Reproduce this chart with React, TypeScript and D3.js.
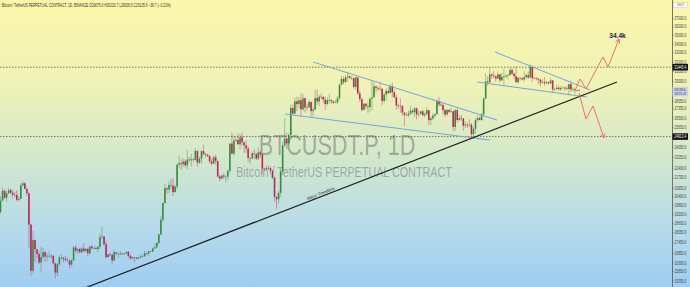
import React from 'react';
import * as d3 from 'd3';

const W = 690;
const H = 287;
const PLOT_R = 672;
const SX = 0.72;

// Daily candles, Binance BTCUSDT.P, from 2022-10-25 to 2023-08-06 (open = previous close)
const START_OPEN = 19330;
const closes = [
  // Oct 25-31
  20090, 20770, 20290, 20600, 20810, 20630, 20490,
  // Nov
  20480, 20150, 20210, 21150, 21300, 20900, 20590, 18540, 15880, 17600, 17070, 16800, 16330, 16620, 16900, 16660, 16690, 16700, 16690, 16280, 15780, 16230, 16600, 16600, 16520, 16460, 16430, 16210, 16440, 17170,
  // Dec
  16980, 17090, 16890, 17110, 16970, 17090, 16840, 17220, 17130, 17130, 17080, 17210, 17780, 17810, 17360, 16630, 16780, 16740, 16440, 16900, 16820, 16820, 16780, 16830, 16830, 16920, 16700, 16550, 16630, 16600, 16540,
  // Jan
  16620, 16670, 16670, 16850, 16830, 16950, 16940, 17120, 17180, 17440, 17940, 18850, 19930, 20950, 20870, 21170, 21130, 20680, 21070, 22670, 22780, 22710, 22920, 22630, 23060, 23010, 23080, 23030, 23740, 22830, 23130,
  // Feb
  23730, 23490, 23430, 23330, 22930, 22760, 23240, 22960, 21800, 21630, 21860, 21780, 21780, 22200, 24330, 23520, 24570, 24630, 24280, 24840, 24440, 24190, 23940, 23190, 23150, 23550, 23490, 23140,
  // Mar
  23630, 23470, 22360, 22350, 22430, 22410, 22200, 21700, 20360, 20190, 20630, 22160, 24200, 24740, 24360, 25050, 27420, 26920, 28040, 27780, 28150, 27300, 28330, 27460, 27480, 27990, 27130, 27270, 28350, 28030, 28480,
  // Apr
  28460, 28200, 27790, 28170, 28170, 28040, 27910, 27950, 28330, 29650, 30230, 29900, 30400, 30490, 30320, 30320, 29430, 30380, 28800, 28250, 27260, 27820, 27590, 27510, 28300, 28420, 29470, 29340, 29250, 29230,
  // May
  28070, 28670, 29030, 28850, 29530, 28900, 28430, 27660, 27630, 27620, 26990, 26800, 26780, 26920, 27170, 27030, 27400, 26830, 26890, 27110, 26750, 26850, 27220, 26330, 26480, 26720, 26870, 28080, 27740, 27700, 27220,
  // Jun
  26820, 27250, 27070, 27120, 25730, 27230, 26340, 26500, 26480, 25840, 25930, 25900, 25920, 25120, 25570, 26330, 26510, 26340, 26840, 28300, 29990, 29890, 30690, 30550, 30470, 30270, 30700, 30080, 30450, 30480,
  // Jul
  30590, 30620, 31160, 30770, 30510, 29900, 30350, 30290, 30170, 30410, 30620, 30380, 31450, 30310, 30290, 30230, 30140, 29860, 29910, 29800, 29900, 29790, 30080, 29180, 29230, 29350, 29210, 29320, 29360, 29280, 29230,
  // Aug 1-6
  29700, 29180, 29180, 29090, 29060, 29136,
];
const highs = [
  20400, 21020, 20870, 20750, 20990, 20930, 20830,
  20700, 20800, 20390, 21300, 21480, 21370, 20990, 20670, 18600, 18150, 17650, 17080, 16950, 17200, 17140, 16980, 16840, 17000, 16800, 16760, 16290, 16300, 16720, 16800, 16610, 16680, 16600, 16480, 16530, 17250,
  17320, 17100, 17150, 17200, 17430, 17110, 17140, 17290, 17360, 17230, 17270, 17240, 18000, 18390, 17850, 17530, 16800, 16860, 16820, 17060, 16900, 16870, 16950, 16870, 16870, 16940, 16970, 16780, 16660, 16640, 16630,
  16630, 16760, 16780, 16990, 16880, 16990, 16970, 17170, 17400, 17490, 17960, 19100, 19990, 21260, 21000, 21440, 21640, 21650, 21190, 22750, 23370, 23080, 23170, 23080, 23800, 23280, 23500, 23170, 23950, 23780, 23300,
  23810, 24250, 23580, 23540, 23430, 23160, 23360, 23450, 22990, 21930, 21900, 22060, 21890, 22330, 24360, 25250, 25020, 24880, 25200, 25130, 25250, 24480, 24600, 24130, 23220, 23690, 23880, 23600,
  24000, 23780, 23480, 22420, 22610, 22600, 22540, 22270, 21800, 20370, 20800, 22250, 24500, 26500, 25250, 25200, 27750, 27750, 28390, 28500, 28450, 28800, 28780, 28400, 27800, 28200, 28000, 27500, 29180, 29170, 28650,
  28800, 28540, 28500, 28450, 28760, 28200, 28100, 28170, 28530, 29770, 30550, 30490, 30620, 31000, 30600, 30550, 30330, 30480, 30410, 29080, 28370, 27880, 27820, 28000, 28390, 30030, 29880, 29600, 29450, 29960,
  29340, 28880, 29270, 29380, 29700, 29850, 29170, 28660, 27830, 28330, 27650, 27050, 27030, 27200, 27660, 27300, 27480, 27480, 27180, 27160, 27280, 27080, 27490, 27220, 26630, 26930, 26900, 28200, 28450, 28050, 27830,
  27350, 27300, 27330, 27450, 27130, 27350, 27380, 26800, 26780, 26520, 26200, 26090, 26400, 26080, 25750, 26480, 26770, 26680, 26980, 28390, 30800, 30500, 31430, 30820, 31050, 30650, 31000, 30720, 30840, 31280,
  30660, 30800, 31400, 31330, 30890, 31500, 30450, 30390, 30450, 31050, 30800, 30990, 31800, 31620, 30390, 30440, 30340, 30240, 30190, 30410, 30060, 29990, 30350, 30100, 29380, 29690, 29580, 29530, 29420, 29470, 29530,
  29740, 30050, 29410, 29320, 29110, 29221,
];
const lows = [
  19250, 20050, 20200, 20000, 20560, 20500, 20250,
  20330, 20050, 20030, 20180, 21080, 20880, 20390, 17160, 15590, 15750, 16360, 16580, 16230, 15820, 16530, 16360, 16400, 16580, 16550, 16200, 15480, 15610, 16170, 16460, 16330, 16400, 16400, 16000, 16100, 16440,
  16870, 16790, 16880, 16880, 16880, 16900, 16680, 16740, 17060, 17090, 17070, 16870, 17080, 17660, 17280, 16560, 16590, 16660, 16270, 16400, 16760, 16560, 16750, 16770, 16730, 16780, 16590, 16460, 16500, 16330, 16490,
  16500, 16550, 16600, 16650, 16750, 16680, 16910, 16910, 17100, 17140, 17320, 17900, 18720, 19890, 20550, 20600, 20840, 20400, 20660, 20880, 22420, 22300, 22500, 22480, 22320, 22850, 22530, 22880, 22980, 22550, 22720,
  22750, 23360, 23210, 23270, 22760, 22630, 22730, 22680, 21690, 21450, 21600, 21630, 21350, 21530, 22050, 23500, 23330, 24450, 24250, 23840, 24150, 23570, 23610, 22860, 22720, 23060, 23100, 23020,
  23020, 23200, 21970, 22180, 22210, 22270, 21930, 21580, 20050, 19550, 19900, 20360, 21900, 24040, 23900, 24150, 24890, 26820, 26900, 27130, 27360, 26600, 27150, 27000, 27150, 27420, 26630, 26650, 27250, 27710, 27560,
  28250, 27870, 27250, 27670, 27830, 27750, 27790, 27880, 27800, 28170, 29600, 29680, 29880, 29960, 30230, 30120, 29270, 29100, 28620, 28010, 27120, 27140, 27330, 26940, 27020, 27230, 28380, 28880, 29050, 29080,
  27660, 27870, 28120, 28690, 28800, 28410, 28370, 27280, 27350, 26990, 26700, 25810, 26700, 26600, 26760, 26860, 26580, 26400, 26630, 26860, 26700, 26580, 26820, 25870, 25880, 26330, 26560, 26820, 27540, 27560, 26840,
  26600, 26750, 26950, 26970, 25380, 25360, 26120, 26200, 26280, 25400, 25640, 25640, 25720, 24820, 24750, 25170, 26180, 26310, 26250, 26650, 28270, 29550, 29810, 30250, 30280, 29930, 30220, 29850, 30040, 29500,
  30320, 30170, 30570, 30640, 30200, 29850, 29710, 30050, 30080, 29950, 30250, 30200, 30250, 29950, 30250, 30070, 29660, 29500, 29760, 29560, 29730, 29640, 29730, 28860, 29050, 29100, 29080, 29000, 29260, 29040, 29100,
  28580, 28960, 28970, 28750, 28960, 29010,
];

const yTicks = [37000, 36000, 35000, 34000, 33000, 32000, 31000, 30000, 28050, 27350, 26500, 25650, 24050, 23250, 22400, 21700, 20950, 20400, 19800, 19200, 18600, 18050, 17450, 16850, 16300, 15850, 15350];

const rangeHigh = 31445.4;
const rangeLow = 24913.4;
const lastPrice = 29138.6;
const countdown = '18:25:22';

// Drawings: [candle index, price]
const trendline: [number, number][] = [[41.6, 14990], [303.7, 29920]];
const wedge1Upper: [number, number][] = [[154, 32000], [244.6, 26340]];
const wedge1Lower: [number, number][] = [[140.2, 26870], [241, 24630]];
const wedge2Upper: [number, number][] = [[243.6, 33090], [290.4, 29130]];
const wedge2Lower: [number, number][] = [[234.7, 29920], [288.9, 28450]];
const bullPath: [number, number][] = [[283.0, 29058], [285.5, 30224], [288.4, 29225], [296.8, 32539], [299.3, 31466], [304.7, 34564]];
const bearPath: [number, number][] = [[285, 28840], [288.4, 26430], [291.9, 27610], [297.3, 24800]];
const targetLabel = '34.4k';
const trendLabel = 'Major Trendline';
const trendLabelIndex = 158;

const titleText = 'Bitcoin / TetherUS PERPETUAL CONTRACT, 1D, BINANCE  O29075.9  H29220.7  L29009.5  C29135.6  −39.7 (−0.21%)';
const watermark1 = 'BTCUSDT.P, 1D';
const watermark2 = 'Bitcoin / TetherUS PERPETUAL CONTRACT';

const GREEN = '#368a3b';
const RED = '#c41f58';
const BLUE = '#6fa8dc';
const SALMON = '#f0706a';
const FONT = '"Liberation Sans", Arial, sans-serif';

export default function App() {
  const x = d3.scaleLinear().domain([-0.25, 330.8]).range([0, PLOT_R]);
  const y = d3.scaleLog().domain([15039, 39398]).range([H, 0]);
  const pt = (d: [number, number]) => [x(d[0]), y(d[1])];
  const line = d3.line<[number, number]>().x(d => x(d[0])).y(d => y(d[1]));

  const opens = closes.map((c, i) => (i === 0 ? START_OPEN : closes[i - 1]));
  const bw = 1.55;

  const head = (path: [number, number][], len = 4.5) => {
    const a = pt(path[path.length - 2]);
    const b = pt(path[path.length - 1]);
    const ang = Math.atan2(b[1] - a[1], b[0] - a[0]);
    const s = 0.5;
    return `M${b[0] - len * Math.cos(ang - s)},${b[1] - len * Math.sin(ang - s)}L${b[0]},${b[1]}L${b[0] - len * Math.cos(ang + s)},${b[1] - len * Math.sin(ang + s)}`;
  };

  const t0 = pt(trendline[0]);
  const t1 = pt(trendline[1]);
  const tAng = Math.atan2(t1[1] - t0[1], t1[0] - t0[0]);
  const lx = x(trendLabelIndex);
  const ly = t0[1] + (lx - t0[0]) * Math.tan(tAng);
  const tip = pt(bullPath[bullPath.length - 1]);

  const label = (txt: string, tx: number, ty: number, props: any = {}) => (
    <text transform={`translate(${tx},${ty}) scale(${SX},1)`} {...props}>{txt}</text>
  );

  return (
    <svg width={W} height={H} style={{ position: 'fixed', left: 0, top: 0 }} fontFamily={FONT}>
      <defs>
        <linearGradient id="bg" x1="0" y1="0" x2="0" y2="1">
          <stop offset="0" stopColor="#fbf6aa" />
          <stop offset="0.3" stopColor="#eff2b6" />
          <stop offset="0.55" stopColor="#d2e8cc" />
          <stop offset="0.8" stopColor="#b6daea" />
          <stop offset="1" stopColor="#9fcdf2" />
        </linearGradient>
      </defs>
      <rect x={0} y={0} width={W} height={H} fill="url(#bg)" />

      {/* watermark */}
      {label(watermark1, 337, 155, { fontSize: 30, textAnchor: 'middle', fill: 'rgba(80,80,80,0.42)' })}
      {label(watermark2, 344, 177, { fontSize: 15, textAnchor: 'middle', fill: 'rgba(80,80,80,0.42)' })}

      {/* range levels */}
      <line x1={0} x2={PLOT_R} y1={y(rangeHigh)} y2={y(rangeHigh)} stroke="#555" strokeWidth={0.8} strokeDasharray="1.5,1.5" />
      <line x1={0} x2={PLOT_R} y1={y(rangeLow)} y2={y(rangeLow)} stroke="#555" strokeWidth={0.8} strokeDasharray="1.5,1.5" />

      {/* candles */}
      <g>
        {closes.map((c, i) => {
          const o = opens[i];
          const up = c >= o;
          const col = up ? GREEN : RED;
          const cx = x(i);
          const top = y(Math.max(o, c));
          const bot = y(Math.min(o, c));
          return (
            <g key={i}>
              <line x1={cx} x2={cx} y1={y(highs[i])} y2={y(lows[i])} stroke={col} strokeOpacity={0.7} strokeWidth={0.6} />
              <rect x={cx - bw / 2} y={top} width={bw} height={Math.max(0.6, bot - top)} fill={col} />
            </g>
          );
        })}
      </g>

      {/* wedges */}
      {[wedge1Upper, wedge1Lower, wedge2Upper, wedge2Lower].map((w, i) => (
        <path key={i} d={line(w) || ''} stroke={BLUE} strokeWidth={1} fill="none" />
      ))}

      {/* trendline */}
      <path d={line(trendline) || ''} stroke="#1e1e1e" strokeWidth={1.2} fill="none" />
      <text
        transform={`translate(${lx},${ly - 1.6}) rotate(${(tAng * 180) / Math.PI})`}
        fontSize={4.3}
        fill="#333"
        textAnchor="middle"
      >
        {trendLabel}
      </text>

      {/* projections */}
      <path d={line(bullPath) || ''} stroke={SALMON} strokeWidth={1} fill="none" />
      <path d={head(bullPath)} stroke={SALMON} strokeWidth={1} fill="none" />
      <path d={line(bearPath) || ''} stroke={SALMON} strokeWidth={1} fill="none" />
      <path d={head(bearPath)} stroke={SALMON} strokeWidth={1} fill="none" />
      <text x={tip[0] - 1.5} y={tip[1] - 1.3} fontSize={6.6} fontWeight="bold" fill="#1b2452" textAnchor="middle">
        {targetLabel}
      </text>

      {/* title */}
      {label(titleText, 2, 6.6, { fontSize: 4.5, fill: '#333' })}

      {/* axis */}
      <line x1={PLOT_R + 0.5} x2={PLOT_R + 0.5} y1={0} y2={H} stroke="#555" strokeWidth={0.8} />
      {yTicks.map(t => (
        <g key={t}>
          <line x1={PLOT_R + 0.5} x2={PLOT_R + 1.8} y1={y(t)} y2={y(t)} stroke="#555" strokeWidth={0.5} />
          {label(t.toFixed(1), PLOT_R + 2.5, y(t) + 1.6, { fontSize: 4.6, fill: '#444' })}
        </g>
      ))}
      <rect x={PLOT_R + 0.5} y={y(rangeHigh) - 3.3} width={15.5} height={6.6} fill="#111" />
      {label(rangeHigh.toFixed(1), PLOT_R + 2.3, y(rangeHigh) + 1.6, { fontSize: 4.6, fill: '#fff' })}
      <rect x={PLOT_R + 0.5} y={y(rangeLow) - 3.3} width={15.5} height={6.6} fill="#111" />
      {label(rangeLow.toFixed(1), PLOT_R + 2.3, y(rangeLow) + 1.6, { fontSize: 4.6, fill: '#fff' })}
      <rect x={PLOT_R + 0.5} y={y(lastPrice) - 3.2} width={15.5} height={9.6} fill="#cad1f2" />
      {label(lastPrice.toFixed(1), PLOT_R + 2.3, y(lastPrice) + 1.4, { fontSize: 4.3, fill: '#333' })}
      {label(countdown, PLOT_R + 2.3, y(lastPrice) + 5.4, { fontSize: 4.3, fill: '#333' })}

      <rect x={PLOT_R + 1.5} y={2.5} width={14} height={5.2} fill="#fafafa" stroke="#bbb" strokeWidth={0.4} />
      {label('USDT', PLOT_R + 8.5, 6.4, { fontSize: 3.6, fill: '#555', textAnchor: 'middle' })}
    </svg>
  );
}
